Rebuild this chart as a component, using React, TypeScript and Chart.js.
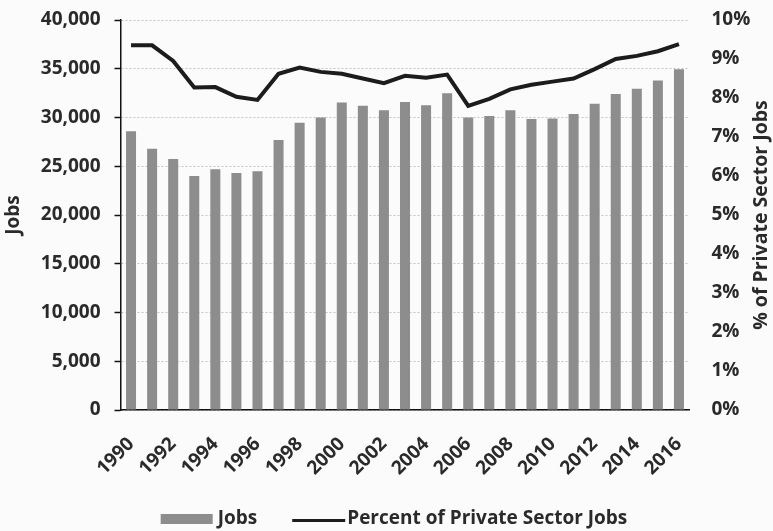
import React, { useEffect, useRef } from 'react';
import { Chart, registerables } from 'chart.js';

Chart.register(...registerables);

const years = ['1990','1991','1992','1993','1994','1995','1996','1997','1998','1999','2000','2001','2002','2003','2004','2005','2006','2007','2008','2009','2010','2011','2012','2013','2014','2015','2016'];
const jobs = [28600, 26800, 25750, 24000, 24700, 24300, 24500, 27700, 29450, 30000, 31550, 31200, 30750, 31600, 31250, 32500, 30000, 30150, 30750, 29850, 29900, 30350, 31400, 32400, 32950, 33800, 34950];
const pctPrivate = [9.35, 9.35, 8.95, 8.27, 8.28, 8.03, 7.95, 8.62, 8.78, 8.67, 8.62, 8.5, 8.38, 8.57, 8.52, 8.6, 7.8, 7.98, 8.22, 8.34, 8.42, 8.5, 8.74, 9.0, 9.08, 9.2, 9.38];
const seriesNames = ['Jobs', 'Percent of Private Sector Jobs'];
const leftTitle = 'Jobs';
const rightTitle = '% of Private Sector Jobs';

const FONT = '"Open Sans"';
const FSIZE = 19;
const TXT = '#2a2a2a';
const BAR = '#8d8d8d';
const LINE = '#1c1c1c';

const bgPlugin = {
  id: 'bg',
  beforeDraw(chart: any) {
    const { ctx, width, height } = chart;
    ctx.save();
    ctx.fillStyle = '#fbfbfb';
    ctx.fillRect(0, 0, width, height);
    ctx.restore();
  },
};

const extrasPlugin = {
  id: 'extras',
  afterDraw(chart: any) {
    const { ctx, chartArea, width, height } = chart;
    ctx.save();
    ctx.font = `bold 19.5px ${FONT}`;
    ctx.fillStyle = TXT;
    ctx.textAlign = 'center';
    ctx.textBaseline = 'middle';
    ctx.translate(width - 12, (chartArea.top + chartArea.bottom) / 2);
    ctx.rotate(-Math.PI / 2);
    ctx.fillText(rightTitle, 0, 0);
    ctx.restore();

    ctx.save();
    ctx.font = `bold ${FSIZE}px ${FONT}`;
    ctx.textBaseline = 'middle';
    ctx.textAlign = 'left';
    const boxW = 52, lineW = 53, gapBox = 5, gapLine = 2, spacing = 35;
    const t1 = ctx.measureText(seriesNames[0]).width;
    const t2 = ctx.measureText(seriesNames[1]).width;
    const total = boxW + gapBox + t1 + spacing + lineW + gapLine + t2;
    let x = width / 2 + 7.5 - total / 2;
    const cy = height - 12;
    ctx.fillStyle = BAR;
    ctx.fillRect(x, cy - 5, boxW, 10);
    x += boxW + gapBox;
    ctx.fillStyle = TXT;
    ctx.fillText(seriesNames[0], x, cy);
    x += t1 + spacing;
    ctx.strokeStyle = LINE;
    ctx.lineWidth = 3;
    ctx.beginPath();
    ctx.moveTo(x, cy + 1.5);
    ctx.lineTo(x + lineW, cy + 1.5);
    ctx.stroke();
    x += lineW + gapLine;
    ctx.fillStyle = TXT;
    ctx.fillText(seriesNames[1], x, cy);
    ctx.restore();
  },
};

export default function App() {
  const ref = useRef<HTMLCanvasElement | null>(null);
  useEffect(() => {
    document.body.style.margin = '0';
    const canvas = ref.current;
    if (!canvas) return;
    const font = { family: FONT, size: FSIZE, weight: 'bold' as const };
    const chart = new Chart(canvas, {
      type: 'bar',
      data: {
        labels: years,
        datasets: [
          {
            type: 'line',
            label: seriesNames[1],
            data: pctPrivate,
            yAxisID: 'y2',
            borderColor: LINE,
            borderWidth: 4,
            pointRadius: 0,
            tension: 0,
            fill: false,
            order: 0,
          } as any,
          {
            type: 'bar',
            label: seriesNames[0],
            data: jobs,
            yAxisID: 'y',
            backgroundColor: BAR,
            barPercentage: 0.5,
            categoryPercentage: 0.95,
            order: 1,
          },
        ],
      },
      options: {
        animation: false,
        responsive: true,
        maintainAspectRatio: false,
        layout: { padding: { top: 20, left: 0, right: 0, bottom: 0 } },
        plugins: { legend: { display: false }, tooltip: { enabled: false } },
        scales: {
          x: {
            grid: { display: false },
            border: { display: true, color: '#111', width: 1.5 },
            ticks: {
              color: TXT,
              font,
              autoSkip: false,
              maxRotation: 45,
              minRotation: 45,
              padding: 15,
              callback: (_v: any, i: number) => (i % 2 === 0 ? years[i] : ''),
            },
            afterFit: (s: any) => { s.height = 121; s.paddingLeft = 0; s.paddingRight = 0; },
          },
          y: {
            position: 'left',
            min: 0,
            max: 40000,
            ticks: {
              stepSize: 5000,
              color: TXT,
              font,
              padding: 14,
              callback: (v: any) => Number(v).toLocaleString('en-US'),
            },
            grid: {
              color: '#c4c4c4',
              lineWidth: 1,
              tickColor: '#111',
              tickLength: 6,
              tickWidth: 1.5,
            },
            border: { display: true, color: '#111', width: 1.5, dash: [2, 2] },
            title: { display: true, text: leftTitle, color: TXT, font, padding: { top: 2, bottom: 0 } },
            afterFit: (s: any) => { s.width = 120.5; s.paddingTop = 0; s.paddingBottom = 0; },
          },
          y2: {
            position: 'right',
            min: 0,
            max: 10,
            ticks: {
              stepSize: 1,
              color: TXT,
              font,
              padding: 22,
              callback: (v: any) => `${v}%`,
            },
            grid: { drawOnChartArea: false, drawTicks: false },
            border: { display: false },
            afterFit: (s: any) => { s.width = 83.5; s.paddingTop = 0; s.paddingBottom = 0; },
          },
        },
      },
      plugins: [bgPlugin, extrasPlugin],
    });
    return () => chart.destroy();
  }, []);
  return (
    <div style={{ position: 'absolute', left: 0, top: 0, width: 773, height: 531 }}>
      <canvas ref={ref} />
    </div>
  );
}
